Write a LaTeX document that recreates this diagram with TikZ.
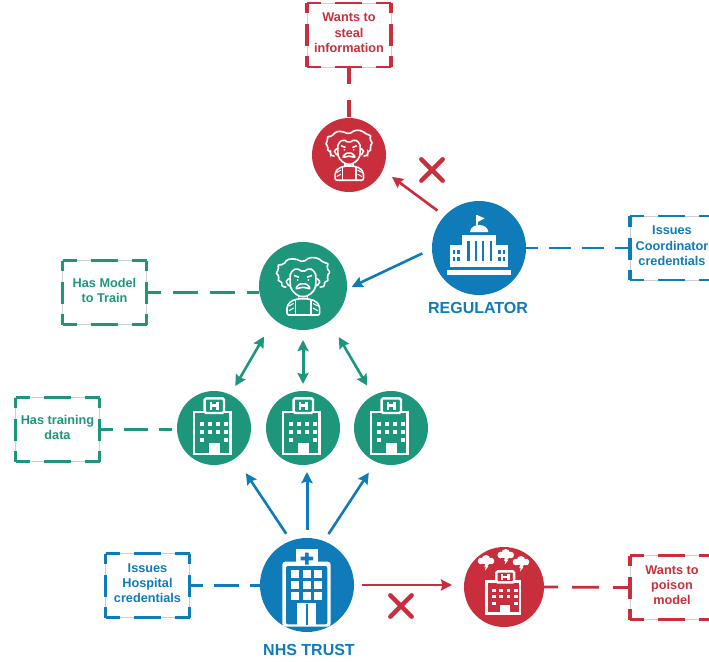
\documentclass[tikz,border=0pt]{standalone}
\usepackage{fontspec}
\setmainfont{Liberation Sans}
\usetikzlibrary{arrows.meta,shapes.misc}
\definecolor{cblue}{HTML}{0F7BB9}
\definecolor{cgreen}{HTML}{1D967B}
\definecolor{cred}{HTML}{C92E3C}
\definecolor{cgrey}{HTML}{CFCFCF}
\tikzset{
  disc/.style={circle,fill=#1,minimum size=74pt,inner sep=0pt,outer sep=0pt},
  infobox/.style={rectangle,draw=cgrey,line width=.7pt,minimum width=84pt,minimum height=64pt,
    inner sep=0pt,outer sep=0pt,align=center,text=#1,font=\fontsize{12.7}{15.2}\selectfont\bfseries,
    execute at end node={\rule[-4.6pt]{0pt}{4.6pt}}},
  title/.style={text=#1,inner sep=0pt,font=\fontsize{16}{19}\selectfont\bfseries},
  hside/.style={line width=2.8pt,dash pattern=on 14pt off 14pt on 27pt off 14pt on 15pt},
  vside/.style={line width=3.2pt,dash pattern=on 10.5pt off 11pt on 22pt off 10pt on 11pt},
  link/.style={line width=2.8pt,draw=#1},
  arrowline/.style={line width=2.6pt,draw=#1,-{Stealth[length=11pt,width=11pt,inset=1.5pt]}},
  twoway/.style={line width=2.6pt,draw=#1,{Stealth[length=11pt,width=11pt,inset=1.5pt]}-{Stealth[length=11pt,width=11pt,inset=1.5pt]}},
  nomark/.style={cross out,draw=cred,line width=4.4pt,minimum size=17pt,inner sep=0pt,line cap=round},
  pics/hosp/.style={code={
    \begin{scope}[shift={(-40,-40)},scale=.33333]
      \draw[white,line width=2.4pt] (60,72) rectangle (170,198);
      \draw[white,fill=#1,line width=2.4pt,rounded corners=1.5pt] (92,31) rectangle (150,75);
      \draw[white,line width=2.5pt] (111,41)--(111,66) (131,41)--(131,66) (111,53)--(131,53);
      \foreach \wx in {85,108,132,157}\foreach \wy in {108,132}
        \fill[white] (\wx-6,\wy-6) rectangle (\wx+6,\wy+6);
      \foreach \wx in {85,157}
        \fill[white] (\wx-6,151) rectangle (\wx+6,163);
      \fill[white] (105,165) rectangle (137,200);
    \end{scope}}},
  pics/bighosp/.style={code={
    \begin{scope}[shift={(-57,-55)},scale=.33333]
      \fill[white,rounded corners=3pt] (97,290) -- (97,95) -- (242,95) -- (242,290) -- cycle;
      \fill[#1,rounded corners=2pt] (108,283) -- (108,108) -- (232,108) -- (232,283) -- cycle;
      \fill[white] (137,57) rectangle (205,108);
      \fill[#1] (165,68) rectangle (176,104) (152,80) rectangle (189,91);
      \foreach \wx in {135,170,204}\foreach \wy in {133,165,199}
        \fill[white] (\wx-12,\wy-12) rectangle (\wx+12,\wy+12);
      \fill[white] (142,218) rectangle (198,285);
      \fill[#1] (167.5,222) rectangle (172.5,285);
    \end{scope}}},
  pics/capitol/.style={code={
    \begin{scope}[shift={(-40,-40)},scale=.33333]
      \fill[white] (110,22) rectangle (116,55);
      \fill[white] (116,22) -- (137,31) -- (116,42) -- cycle;
      \fill[white] (93,72) .. controls (95,44) and (146,44) .. (148,72) -- cycle;
      \fill[white] (68,80) rectangle (172,178);
      \fill[white] (32,110) rectangle (208,178);
      \fill[white] (25,187) rectangle (215,202);
      \foreach \px in {88,110,132,155}
        \fill[#1] (\px-3.5,100) rectangle (\px+3.5,160);
      \foreach \wx in {45,58,182,195}\foreach \wy in {132,152}
        \fill[#1] (\wx-4,\wy-6.5) rectangle (\wx+4,\wy+6.5);
    \end{scope}}},
  pics/thinker/.style={code={
    \begin{scope}[shift={(-40,-39.3)},scale=.33333,white,line width=1.6pt,rounded corners=2pt]
      \draw (70,122) -- (55,118) -- (58,106) -- (44,102) -- (50,88) -- (38,80) -- (48,68) -- (44,54)
        -- (62,54) -- (72,38) -- (96,36) -- (120,46) -- (140,32) -- (165,34) -- (182,48) -- (197,50)
        -- (190,64) -- (202,76) -- (191,88) -- (197,102) -- (183,106) -- (186,118) -- (170,122);
      \draw (81,108) -- (82,78) -- (100,64) -- (120,76) -- (140,64) -- (158,78) -- (159,108)
        -- (156,128) -- (138,146) -- (120,151) -- (102,146) -- (84,128) -- cycle;
      \draw (81,96) -- (70,98) -- (70,112) -- (81,118);
      \draw (159,96) -- (170,98) -- (170,112) -- (159,118);
      \draw (93,86) -- (108,92) (147,86) -- (132,92);
      \fill (104,100) circle (3) (136,100) circle (3);
      \draw (98,128) -- (104,114) -- (120,110) -- (136,114) -- (142,128) -- (128,122) -- (112,122) -- cycle;
      \draw (106,146) -- (106,156) (134,156) -- (134,146);
      \draw (72,205) -- (72,178) -- (84,163) -- (106,156) -- (134,156) -- (158,163) -- (170,178) -- (170,205) -- cycle;
      \draw (98,160) -- (98,205) (144,160) -- (144,205);
      \draw[line width=1pt] (78,178)--(92,170) (78,192)--(92,184) (150,170)--(164,178) (150,184)--(164,192);
    \end{scope}}},
  pics/stormcloud/.style={code={
    \fill[white] (-5,0) circle (3.3) (0,-1.7) circle (4.3) (5,0) circle (3.3);
    \fill[white] (-6.5,0) rectangle (6.5,3.2);
    \fill[white] (-1,3) -- (3,3) -- (1.2,5.2) -- (2.4,5.2) -- (-1,9.5) -- (-.2,6) -- (-1.6,6) -- cycle;
  }},
}
\begin{document}
\begin{tikzpicture}[x=1pt,y=-1pt]
\useasboundingbox (0,0) rectangle (709,661);
% main discs
\node[disc=cred] (rp) at (349,155) {};
\node[disc=cblue,minimum size=94pt] (reg) at (479,248) {};
\node[disc=cgreen,minimum size=88pt] (gp) at (303,286) {};
\node[disc=cgreen] (ha) at (214,428) {};
\node[disc=cgreen] (hb) at (303,428) {};
\node[disc=cgreen] (hc) at (391,428) {};
\node[disc=cblue,minimum size=94pt] (nhs) at (307,585) {};
\node[disc=cred,minimum size=80pt] (rh) at (504,587) {};
% boxes
\node[infobox=cred] (bs) at (349,35) {Wants to\\steal\\information};
\node[infobox=cblue] (bc) at (672,248) {Issues\\Coordinator\\credentials};
\node[infobox=cgreen] (bm) at (104.5,292.5) {Has Model\\to Train};
\node[infobox=cgreen] (bt) at (57.5,429.5) {Has training\\data};
\node[infobox=cblue] (bh) at (147.5,585.5) {Issues\\Hospital\\credentials};
\node[infobox=cred] (bp) at (672,587.5) {Wants to\\poison\\model};
\foreach \n/\c in {bs/cred,bc/cblue,bm/cgreen,bt/cgreen,bh/cblue,bp/cred}{
  \draw[hside,\c] (\n.north west) -- (\n.north east);
  \draw[hside,\c] (\n.south west) -- (\n.south east);
  \draw[vside,\c] (\n.north west) -- (\n.south west);
  \draw[vside,\c] (\n.north east) -- (\n.south east);
}
% titles
\node[title=cblue] (treg) at (478,308) {REGULATOR};
\node[title=cblue] (tnhs) at (309,650) {NHS TRUST};
% icons
\pic[scale=.87] at (rp) {thinker=cred};
\pic at (gp) {thinker=cgreen};
\pic at (reg) {capitol=cblue};
\pic at (nhs) {bighosp=cblue};
\pic at (ha) {hosp=cgreen};
\pic at (hb) {hosp=cgreen};
\pic at (hc) {hosp=cgreen};
\pic[xscale=.92,yscale=.76,shift={(1,9)}] at (rh) {hosp=cred};
\pic at ([shift={(-18,-26)}]rh.center) {stormcloud};
\pic at ([shift={(1.7,-32)}]rh.center) {stormcloud};
\pic at ([shift={(17,-25)}]rh.center) {stormcloud};
% dashed links
\draw[link=cred,line width=3.3pt,dash pattern=on 17pt off 16pt] (bs.south) -- (rp.north);
\draw[link=cblue,dash pattern=on 22pt off 11pt,dash phase=10pt] (reg.east) -- (bc.west);
\draw[link=cgreen,dash pattern=on 25pt off 12pt,dash phase=11pt] (bm.east) -- (bm -| gp.west);
\draw[link=cgreen,dash pattern=on 24pt off 11pt,dash phase=11pt,shorten >=5pt] (bt.east) -- (bt -| ha.west);
\draw[link=cblue,dash pattern=on 25pt off 11pt,dash phase=12pt] (bh.east) -- (bh -| nhs.west);
\draw[link=cred,dash pattern=on 27pt off 14pt,dash phase=13pt] (rh.east) -- (bp.west);
% arrows
\draw[arrowline=cred,shorten <=9pt,shorten >=11.5pt] (reg.137.8) -- (rp.336);
\draw[arrowline=cblue,shorten <=10.8pt,shorten >=5.4pt] (reg.181) -- (gp.356);
\draw[twoway=cgreen,shorten <=20pt,shorten >=10pt] (gp.229.6) -- (ha.64.5);
\draw[twoway=cgreen,line width=3pt,shorten <=10pt,shorten >=7pt] (gp.270) -- (hb.90);
\draw[twoway=cgreen,shorten <=18.5pt,shorten >=11.5pt] (gp.307.4) -- (hc.119.8);
\draw[arrowline=cblue,shorten <=8.5pt,shorten >=18.3pt] (nhs.110.4) -- (ha.306.5);
\draw[arrowline=cblue,line width=3pt,shorten <=8pt,shorten >=7pt] (nhs.90) -- (nhs.90 |- hb.south);
\draw[arrowline=cblue,shorten <=8.5pt,shorten >=13pt] (nhs.69.7) -- (hc.246.7);
\draw[arrowline=cred,shorten <=8pt,shorten >=12pt] (nhs.east) -- (nhs -| rh.west);
% crosses
\node[nomark] (xa) at (432,170) {};
\node[nomark] (xb) at (401,606) {};
\end{tikzpicture}
\end{document}
